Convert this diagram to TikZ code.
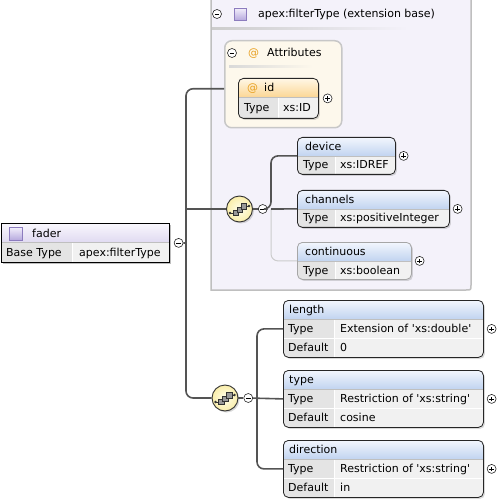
\documentclass[tikz,border=0pt]{standalone}
\usepackage{fontspec}
\setmainfont{DejaVu Sans}
\usepackage{tikz}
\usetikzlibrary{positioning,shadows}
\definecolor{extfill}{RGB}{244,242,250}
\definecolor{attfill}{RGB}{253,248,236}
\definecolor{elemtop}{RGB}{242,246,253}
\definecolor{elembot}{RGB}{192,211,240}
\definecolor{atttop}{RGB}{255,247,230}
\definecolor{attbot}{RGB}{251,214,148}
\definecolor{fadtop}{RGB}{249,247,253}
\definecolor{fadbot}{RGB}{224,218,241}
\definecolor{keycell}{RGB}{228,228,228}
\definecolor{valcell}{RGB}{241,241,241}
\definecolor{seqin}{RGB}{255,254,236}
\definecolor{seqout}{RGB}{250,238,170}
\definecolor{sqtop}{RGB}{243,240,252}
\definecolor{sqbot}{RGB}{183,170,222}
\definecolor{sqline}{RGB}{140,124,190}
\definecolor{atsign}{RGB}{232,160,32}

\begin{document}
\begin{tikzpicture}[x=1pt, y=-1pt,
        txt/.style={anchor=west, inner sep=0pt, text height=8pt, text depth=0pt, font=\fontsize{11}{13}\selectfont},
        headshade/.style={top color=elemtop, bottom color=elembot},
        elembox/.style n args={3}{draw=black!85, line width=0.8pt, rounded corners=5pt, anchor=north west,
            inner sep=0pt, minimum width=#1, fill=valcell,
            drop shadow={shadow xshift=1.5pt, shadow yshift=-1.5pt, opacity=0.3},
            path picture={
                \fill[keycell, sharp corners] (path picture bounding box.north west) rectangle ([xshift=#2]path picture bounding box.south west);
                \shade[headshade, sharp corners] (path picture bounding box.north west) rectangle ([yshift=-19pt]path picture bounding box.north east);
                \draw[white, line width=1pt, sharp corners] ([xshift=#2, yshift=-19pt]path picture bounding box.north west) -- ([xshift=#2]path picture bounding box.south west);
                \draw[white, line width=1pt, sharp corners] ([yshift=-#3]path picture bounding box.north west) -- ([yshift=-#3]path picture bounding box.north east);
                \draw[black!25, line width=0.6pt, sharp corners] ([yshift=-19pt]path picture bounding box.north west) -- ([yshift=-19pt]path picture bounding box.north east);
            }},
        attgroup/.style={draw=black!22, line width=1.5pt, fill=attfill, rounded corners=7pt, anchor=north west, inner sep=0pt},
        extframe/.style={draw=black!25, line width=1.5pt, fill=extfill},
        typesq/.style={draw=sqline, line width=0.6pt, inner sep=0pt, minimum size=12pt, top color=sqtop, bottom color=sqbot},
        collapse/.style={circle, draw=black!85, line width=0.6pt, fill=white, minimum size=9pt, inner sep=0pt,
            path picture={\draw[black, line width=0.7pt] ([xshift=-2.4pt]path picture bounding box.center) -- ([xshift=2.4pt]path picture bounding box.center);}},
        expand/.style={circle, draw=black!85, line width=0.6pt, fill=white, minimum size=9pt, inner sep=0pt,
            path picture={\draw[black, line width=0.7pt] ([xshift=-2.4pt]path picture bounding box.center) -- ([xshift=2.4pt]path picture bounding box.center)
                ([yshift=-2.4pt]path picture bounding box.center) -- ([yshift=2.4pt]path picture bounding box.center);}},
        seq/.style={circle, draw=black!80, line width=0.9pt, minimum size=26pt, inner sep=0pt, inner color=seqin, outer color=seqout,
            drop shadow={shadow xshift=1.5pt, shadow yshift=-1.5pt, opacity=0.3},
            path picture={
                \begin{scope}[shift={(path picture bounding box.center)}, line width=0.5pt]
                    \draw[black!80] (-9.5,4) -- (-6.5,4) (7,-3) -- (9.5,-3);
                    \fill[black!80] (-9.5,4) circle (1.3pt) (9.5,-3) circle (1.3pt);
                    \filldraw[fill=black!40, draw=black!80] (-6.5,1) rectangle (-1,6.5);
                    \filldraw[fill=black!40, draw=black!80] (-2.5,-2) rectangle (3,3.5);
                    \filldraw[fill=black!40, draw=black!80] (1.5,-5.5) rectangle (7,0);
                \end{scope}}},
        conn/.style={draw=black!67, line width=1.6pt},
        optconn/.style={draw=black!20, line width=1pt},
        ]
        \useasboundingbox (0,0) rectangle (498,502);
        \clip (0,0) rectangle (498,502);

        % extension base
        \filldraw[extframe] (211,-5) -- (211,290) -- (466,290) .. controls (471,290) .. (471,285) -- (471,-5);
        \node (extminus) [collapse] at (217,14) {};
        \node (extsq) [typesq] at (240,14) {};
        \node (exttitle) [txt] at (258,14) {apex:filterType (extension base)};
        \shade[left color=black!20, right color=extfill] (212,28) rectangle (408,30);

        % attributes
        \node (attrs) [attgroup, minimum width=117pt, minimum height=87pt] at (224,40) {};
        \node (attminus) [collapse] at (232,53) {};
        \node (attat) [txt, text=atsign] at (248,53) {@};
        \node (atttitle) [txt] at (267,53) {Attributes};
        \shade[left color=black!15, right color=attfill] (229,66) rectangle (313,68);

        \node (id) [elembox={80pt}{40pt}{60pt}, headshade/.style={top color=atttop, bottom color=attbot}, minimum height=40pt] at (238,78) {};
        \node (idplus) [expand, right=4pt of id] {};
        \node (idat) [txt, text=atsign] at (247,88) {@};
        \node (idname) [txt] at (264,88) {id};
        \node (idkey) [txt] at (244,108) {Type};
        \node (idval) [txt] at (283,108) {xs:ID};

        % fader
        \node (fader) [elembox={168pt}{71pt}{60pt}, headshade/.style={top color=fadtop, bottom color=fadbot}, sharp corners, draw=black,
            drop shadow={shadow xshift=2pt, shadow yshift=-2pt, opacity=0.3}, minimum height=39pt] at (1,223) {};
        \node (fadminus) [collapse, right=4pt of fader] {};
        \node (fadsq) [typesq, minimum size=13pt] at (15.5,233.5) {};
        \node (fadname) [txt] at (32,233) {fader};
        \node (fadkey) [txt] at (6,252) {Base Type};
        \node (fadval) [txt] at (79,252) {apex:filterType};

        % sequence inside the extension
        \node (seq1) [seq] at (239.5,209) {};
        \node (seq1minus) [collapse, right=5pt of seq1] {};

        \node (device) [elembox={98pt}{38pt}{60pt}, minimum height=37pt] at (297,137) {};
        \node (deviceplus) [expand, right=3pt of device] {};
        \node (devicename) [txt] at (305,146.5) {device};
        \node (devicekey) [txt] at (303,165) {Type};
        \node (deviceval) [txt] at (340,165) {xs:IDREF};

        \node (channels) [elembox={152pt}{38pt}{60pt}, minimum height=37pt] at (297,190) {};
        \node (channelsplus) [expand, right=3pt of channels] {};
        \node (channelsname) [txt] at (305,199.5) {channels};
        \node (channelskey) [txt] at (303,218) {Type};
        \node (channelsval) [txt] at (340,218) {xs:positiveInteger};

        \node (continuous) [elembox={114pt}{38pt}{60pt}, draw=black!35, minimum height=37pt] at (297,242) {};
        \node (continuousplus) [expand, right=3pt of continuous] {};
        \node (continuousname) [txt] at (305,251.5) {continuous};
        \node (continuouskey) [txt] at (303,270) {Type};
        \node (continuousval) [txt] at (340,270) {xs:boolean};

        % sequence of the fader
        \node (seq2) [seq] at (225,398) {};
        \node (seq2minus) [collapse, right=5pt of seq2] {};

        \node (length) [elembox={200pt}{51pt}{38pt}, minimum height=57pt] at (283,300) {};
        \node (lengthplus) [expand, right=3pt of length] {};
        \node (lengthname) [txt] at (289,309.5) {length};
        \node (lengthkey) [txt] at (288,328.5) {Type};
        \node (lengthval) [txt] at (340,328.5) {Extension of \textquotesingle xs:double\textquotesingle};
        \node (lengthdefkey) [txt] at (288,347.5) {Default};
        \node (lengthdefval) [txt] at (340,347.5) {0};

        \node (typeel) [elembox={200pt}{51pt}{38pt}, minimum height=57pt] at (283,370) {};
        \node (typeplus) [expand, right=3pt of typeel] {};
        \node (typename) [txt] at (289,379.5) {type};
        \node (typekey) [txt] at (288,398.5) {Type};
        \node (typeval) [txt] at (340,398.5) {Restriction of \textquotesingle xs:string\textquotesingle};
        \node (typedefkey) [txt] at (288,417.5) {Default};
        \node (typedefval) [txt] at (340,417.5) {cosine};

        \node (direction) [elembox={200pt}{51pt}{38pt}, minimum height=57pt] at (283,440) {};
        \node (directionplus) [expand, right=3pt of direction] {};
        \node (directionname) [txt] at (289,449.5) {direction};
        \node (directionkey) [txt] at (288,468.5) {Type};
        \node (directionval) [txt] at (340,468.5) {Restriction of \textquotesingle xs:string\textquotesingle};
        \node (directiondefkey) [txt] at (288,487.5) {Default};
        \node (directiondefval) [txt] at (340,487.5) {in};

        % connectors
        \coordinate (trunk) at (186,243);
        \coordinate (br1) at (271,209);
        \coordinate (br2) at (257,398);
        \draw[conn, rounded corners=7pt] ([yshift=-4.5pt]attrs.west) -| (trunk) |- (seq2.west);
        \draw[conn] (fadminus) -- (trunk);
        \draw[conn] (trunk |- seq1.west) -- (seq1.west);
        \draw[conn] (seq1) -- (seq1minus);
        \draw[optconn, rounded corners=7pt] (br1) |- (continuous.west);
        \draw[conn, rounded corners=7pt] (device.west) -| (br1) -- (seq1minus);
        \draw[conn] (br1) -- (channels.west);
        \draw[conn] (seq2) -- (seq2minus);
        \draw[conn, rounded corners=7pt] (length.west) -| (br2) |- (direction.west);
        \draw[conn] (seq2minus) -- (typeel.west);
    \end{tikzpicture}
\end{document}
